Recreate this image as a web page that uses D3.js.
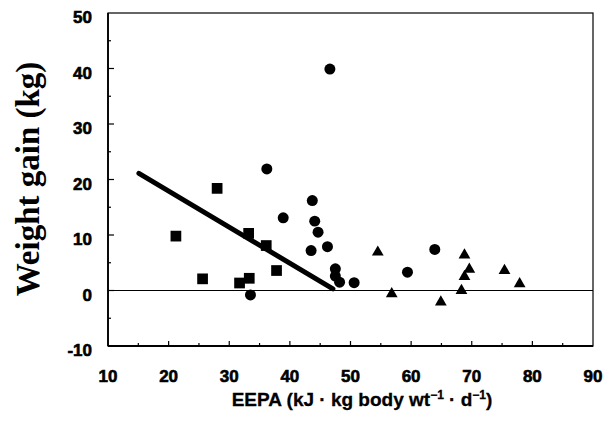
<!DOCTYPE html>
<html>
<head>
<meta charset="utf-8">
<script src="https://cdn.jsdelivr.net/npm/d3@7"></script>
<style>
  body { margin: 0; background: #fff; }
  svg { display: block; }
</style>
</head>
<body>
<script>
(function (d3) {
  "use strict";

  /***** Data *****/
  // squares
  var squareX = [21.2, 28.0, 25.6, 31.7, 33.3, 33.2, 36.1, 37.8];
  var squareY = [9.8, 18.4, 2.1, 1.35, 2.2, 10.3, 8.1, 3.6];
  // circles
  var circleX = [33.5, 36.2, 38.9, 43.7, 44.1, 44.65, 43.5, 46.2, 47.5, 47.5, 48.2, 46.6, 50.6, 59.4, 63.9];
  var circleY = [-0.8, 21.9, 13.1, 16.2, 12.5, 10.5, 7.2, 7.9, 3.9, 2.6, 1.5, 39.9, 1.4, 3.3, 7.4];
  // triangles
  var triangleX = [54.5, 56.8, 64.9, 68.8, 69.6, 68.8, 68.3, 75.4, 77.9];
  var triangleY = [6.9, -0.6, -2.1, 6.4, 3.8, 2.5, 0.0, 3.6, 1.2];
  // regression line end points
  var fitX = [15.1, 47.1];
  var fitY = [21.1, 0.3];

  var xTicks = [10, 20, 30, 40, 50, 60, 70, 80, 90];
  var yTicks = [-10, 0, 10, 20, 30, 40, 50];

  /***** Configuration *****/
  var W = 610, H = 425;
  var left = 108, right = 593, top = 13, bottom = 346;

  var x = d3.scaleLinear().domain([10, 90]).range([left, right]);
  var y = d3.scaleLinear().domain([-10, 50]).range([bottom, top]);

  var svg = d3.select("body").append("svg")
    .attr("width", W).attr("height", H);

  /***** Frame and ticks *****/
  svg.append("rect")
    .attr("x", left).attr("y", top)
    .attr("width", right - left).attr("height", bottom - top)
    .attr("fill", "none").attr("stroke", "#000").attr("stroke-width", 1.2);

  svg.append("line")
    .attr("x1", left).attr("x2", left).attr("y1", top).attr("y2", bottom)
    .attr("stroke", "#000").attr("stroke-width", 1.8);
  svg.append("line")
    .attr("x1", left).attr("x2", right).attr("y1", bottom).attr("y2", bottom)
    .attr("stroke", "#000").attr("stroke-width", 1.8);

  // zero line
  svg.append("line")
    .attr("x1", left).attr("x2", right).attr("y1", y(0)).attr("y2", y(0))
    .attr("stroke", "#000").attr("stroke-width", 1);

  var xMinor = d3.range(15, 90, 5);
  svg.append("g").selectAll("line").data(xMinor).enter().append("line")
    .attr("x1", d => x(d)).attr("x2", d => x(d))
    .attr("y1", bottom).attr("y2", d => bottom - (d % 10 === 0 ? 5 : 3))
    .attr("stroke", "#000").attr("stroke-width", 1.2);

  var yMinor = d3.range(-5, 50, 5);
  svg.append("g").selectAll("line").data(yMinor).enter().append("line")
    .attr("y1", d => y(d)).attr("y2", d => y(d))
    .attr("x1", left).attr("x2", d => left + (d % 10 === 0 ? 6 : 3))
    .attr("stroke", "#000").attr("stroke-width", 1.2);

  /***** Tick labels *****/
  var tickFont = "'Liberation Sans', Arial, Helvetica, sans-serif";
  svg.append("g").selectAll("text").data(xTicks).enter().append("text")
    .attr("x", d => x(d)).attr("y", 382)
    .attr("text-anchor", "middle")
    .attr("font-family", tickFont).attr("font-weight", "bold")
    .attr("font-size", 17)
    .attr("stroke", "#000").attr("stroke-width", 0.6)
    .text(d => d);

  svg.append("g").selectAll("text").data(yTicks).enter().append("text")
    .attr("x", 92).attr("y", d => y(d) + 10)
    .attr("text-anchor", "end")
    .attr("font-family", tickFont).attr("font-weight", "bold")
    .attr("font-size", 17)
    .attr("stroke", "#000").attr("stroke-width", 0.6)
    .text(d => d);

  /***** Axis titles *****/
  var xt = svg.append("text")
    .attr("x", 362).attr("y", 406)
    .attr("text-anchor", "middle")
    .attr("font-family", tickFont).attr("font-weight", "bold")
    .attr("font-size", 19)
    .attr("stroke", "#000").attr("stroke-width", 0.3);
  xt.append("tspan").text("EEPA (kJ \u00B7 kg body wt");
  xt.append("tspan").attr("dy", -7).attr("font-size", 12).text("\u22121");
  xt.append("tspan").attr("dy", 7).text(" \u00B7 d");
  xt.append("tspan").attr("dy", -7).attr("font-size", 12).text("\u22121");
  xt.append("tspan").attr("dy", 7).text(")");

  svg.append("text")
    .attr("transform", "translate(39,179) rotate(-90)")
    .attr("text-anchor", "middle")
    .attr("font-family", "'Liberation Serif', 'Times New Roman', serif")
    .attr("font-weight", "bold")
    .attr("font-size", 33)
    .text("Weight gain (kg)");

  /***** Regression line *****/
  svg.append("line")
    .attr("x1", x(fitX[0])).attr("y1", y(fitY[0]))
    .attr("x2", x(fitX[1])).attr("y2", y(fitY[1]))
    .attr("stroke", "#000").attr("stroke-width", 5)
    .attr("stroke-linecap", "round");

  /***** Points *****/
  function drawSeries(xs, ys, type, size) {
    var sym = d3.symbol().type(type).size(size);
    svg.append("g").selectAll("path").data(xs).enter().append("path")
      .attr("transform", (d, i) => "translate(" + x(d) + "," + y(ys[i]) + ")")
      .attr("d", sym)
      .attr("fill", "#000");
  }
  drawSeries(squareX, squareY, d3.symbolSquare, 115);
  drawSeries(circleX, circleY, d3.symbolCircle, 95);
  drawSeries(triangleX, triangleY, d3.symbolTriangle, 60);

})(d3);
</script>
</body>
</html>
